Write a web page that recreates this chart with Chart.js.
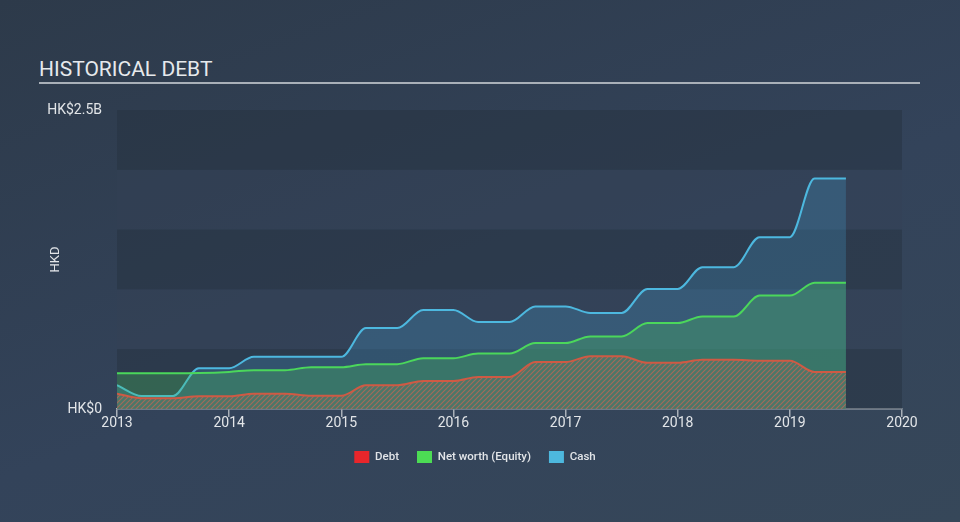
<!DOCTYPE html>
<html>
<head>
<meta charset="utf-8">
<script src="https://cdn.jsdelivr.net/npm/chart.js@4/dist/chart.umd.min.js"></script>
<style>
  html, body { margin: 0; padding: 0; }
  body {
    width: 960px; height: 522px; overflow: hidden; position: relative;
    background: linear-gradient(160deg, #2d3a4a 0%, #33435a 55%, #364759 100%);
    font-family: Roboto, "Open Sans", sans-serif;
  }
  #title {
    position: absolute; left: 39px; top: 57px; width: 881px;
    color: #e6e9ec; font-size: 21px;
    padding-bottom: 1px; border-bottom: 2px solid #a9b0b8;
    line-height: 24px;
  }
  #wrap { position: absolute; left: 0; top: 0; width: 960px; height: 522px; }
</style>
</head>
<body>
<div id="title">HISTORICAL DEBT</div>
<div id="wrap"><canvas id="chart" width="960" height="522"></canvas></div>
<script>
// report dates as decimal years
var dates = [2013.0, 2013.22, 2013.5, 2013.73, 2014.0, 2014.22, 2014.5, 2014.73,
             2015.0, 2015.22, 2015.5, 2015.73, 2016.0, 2016.22, 2016.5, 2016.73,
             2017.0, 2017.22, 2017.5, 2017.73, 2018.0, 2018.22, 2018.5, 2018.73,
             2019.0, 2019.22, 2019.5];
// values in HK$ billions
var debt = [0.128, 0.09, 0.09, 0.106, 0.106, 0.128, 0.128, 0.11,
            0.11, 0.199, 0.199, 0.235, 0.235, 0.268, 0.268, 0.392,
            0.392, 0.442, 0.442, 0.386, 0.386, 0.411, 0.411, 0.403,
            0.403, 0.309, 0.309];
var equity = [0.298, 0.298, 0.298, 0.30, 0.31, 0.325, 0.325, 0.35,
              0.35, 0.375, 0.375, 0.425, 0.425, 0.464, 0.464, 0.551,
              0.551, 0.607, 0.607, 0.719, 0.719, 0.774, 0.774, 0.948,
              0.948, 1.055, 1.055];
var cash = [0.20, 0.109, 0.109, 0.341, 0.341, 0.436, 0.436, 0.436,
            0.436, 0.677, 0.677, 0.828, 0.828, 0.727, 0.727, 0.858,
            0.858, 0.803, 0.803, 1.004, 1.004, 1.186, 1.186, 1.437,
            1.437, 1.927, 1.927];
var yearTicks = [2013, 2014, 2015, 2016, 2017, 2018, 2019, 2020];
var seriesNames = ["Debt", "Net worth (Equity)", "Cash"];

function pts(vals) {
  return vals.map(function(v, i) { return {x: dates[i], y: v}; });
}

// hatched fill for the debt area
function makeHatch() {
  var c = document.createElement("canvas");
  c.width = 5; c.height = 5;
  var g = c.getContext("2d");
  g.fillStyle = "rgba(78,120,104,0.9)";
  g.fillRect(0, 0, 5, 5);
  g.strokeStyle = "rgba(184,104,88,0.8)";
  g.lineWidth = 1.2;
  g.beginPath();
  g.moveTo(0, 5); g.lineTo(5, 0);
  g.moveTo(-2.5, 2.5); g.lineTo(2.5, -2.5);
  g.moveTo(2.5, 7.5); g.lineTo(7.5, 2.5);
  g.stroke();
  return g.createPattern(c, "repeat");
}

var bands = {
  id: "bands",
  beforeDatasetsDraw: function(chart) {
    var ctx = chart.ctx, a = chart.chartArea, y = chart.scales.y;
    for (var i = 0; i < 5; i++) {
      var top = y.getPixelForValue(2.5 - i * 0.5);
      var bot = y.getPixelForValue(2.0 - i * 0.5);
      ctx.fillStyle = (i % 2 == 0) ? "rgba(38,50,64,0.5)" : "rgba(52,66,84,0.4)";
      ctx.fillRect(a.left, top, a.right - a.left, bot - top);
    }
  }
};

var chart = new Chart(document.getElementById("chart"), {
  type: "line",
  data: {
    datasets: [
      {
        label: seriesNames[0],
        data: pts(debt),
        borderColor: "#cf5a44",
        backgroundColor: makeHatch(),
        fill: "origin",
        borderWidth: 2,
        pointRadius: 0,
        cubicInterpolationMode: "monotone"
      },
      {
        label: seriesNames[1],
        data: pts(equity),
        borderColor: "#4bd75b",
        backgroundColor: "rgba(72,196,96,0.3)",
        fill: "origin",
        borderWidth: 2,
        pointRadius: 0,
        cubicInterpolationMode: "monotone"
      },
      {
        label: seriesNames[2],
        data: pts(cash),
        borderColor: "#4db8df",
        backgroundColor: "rgba(70,160,210,0.26)",
        fill: "origin",
        borderWidth: 2,
        pointRadius: 0,
        cubicInterpolationMode: "monotone"
      }
    ]
  },
  options: {
    responsive: false,
    animation: false,
    layout: { padding: { top: 110, right: 58, left: 48, bottom: 49 } },
    plugins: {
      legend: {
        position: "bottom",
        labels: {
          color: "#e2e5e8",
          font: { size: 11.5, family: "Roboto", weight: "500" },
          boxWidth: 15,
          boxHeight: 12,
          padding: 18,
          generateLabels: function(ch) {
            var cols = ["#e8262b", "#4cdc54", "#4db8de"];
            return seriesNames.map(function(n, i) {
              return { text: n, fillStyle: cols[i], strokeStyle: cols[i], lineWidth: 0,
                       fontColor: "#e2e5e8", datasetIndex: i };
            });
          }
        }
      },
      tooltip: { enabled: false }
    },
    scales: {
      x: {
        type: "linear",
        min: 2013, max: 2020,
        afterBuildTicks: function(s) { s.ticks = yearTicks.map(function(v) { return {value: v}; }); },
        afterFit: function(s) { s.height = 24; },
        ticks: {
          color: "#e2e5e8",
          font: { size: 14, family: "Roboto" },
          padding: -2,
          maxRotation: 0,
          callback: function(v) { return String(v); }
        },
        grid: { drawOnChartArea: false, color: "#a9b0b8", tickLength: 8, lineWidth: 1.5 },
        border: { display: true, color: "#a9b0b8", width: 1.5 }
      },
      y: {
        min: 0, max: 2.5,
        afterFit: function(s) { s.width = 69; },
        ticks: {
          stepSize: 0.5,
          color: "#e2e5e8",
          font: { size: 14, family: "Roboto" },
          padding: 7,
          callback: function(v) {
            if (v == 0) return "HK$0";
            if (v == 2.5) return "HK$2.5B";
            return "";
          }
        },
        title: {
          display: true, text: "HKD", color: "#e2e5e8",
          font: { size: 13, family: "Roboto" }, padding: { top: 0, bottom: 0 }
        },
        grid: { display: false },
        border: { display: false }
      }
    }
  },
  plugins: [bands]
});
</script>
</body>
</html>
